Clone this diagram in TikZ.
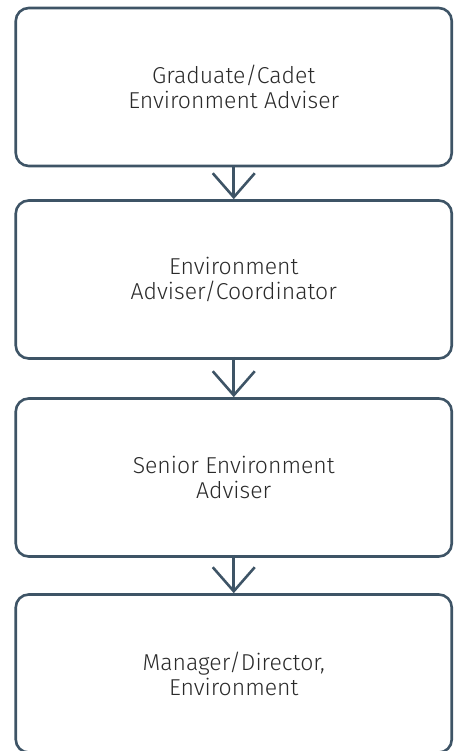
\documentclass[tikz,border=0pt]{standalone}
\usepackage{fontspec}
\setmainfont{Fira Sans Light}
\usetikzlibrary{arrows.meta}
\definecolor{edge}{HTML}{3E5466}
\definecolor{txt}{HTML}{2A2A2A}
\begin{document}
\begin{tikzpicture}[x=1pt,y=-1pt,
  stagebox/.style={draw=edge, line width=2.6pt, rounded corners=13pt, minimum width=436pt, minimum height=158pt, align=center, font=\fontsize{23}{25}\selectfont, text=txt, inner sep=0pt},
  flow/.style={draw=edge, line width=2.6pt, -{Straight Barb[length=24pt,width=42pt,line width=2.6pt]}}]
\useasboundingbox (0,0) rectangle (458,751);
\node[stagebox] (a) at (233.75,87) {Graduate/Cadet\\Environment Adviser};
\node[stagebox] (b) at (233.75,279.5) {Environment\\Adviser/Coordinator};
\node[stagebox] (c) at (233.75,477.5) {Senior Environment\\Adviser};
\node[stagebox] (d) at (233.75,673.5) {Manager/Director,\\Environment};
\draw[flow] (a.south) -- (b.north);
\draw[flow] ([yshift=3pt]b.south) -- (c.north);
\draw[flow] ([yshift=3pt]c.south) -- (d.north);
\end{tikzpicture}
\end{document}
